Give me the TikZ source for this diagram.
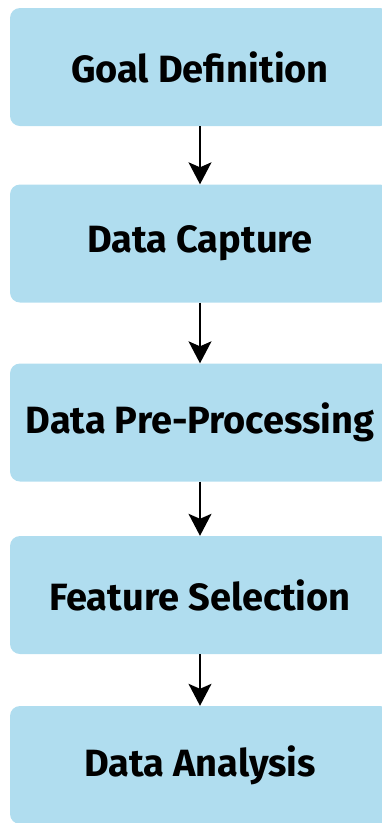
\documentclass[tikz,border=0pt]{standalone}
\usepackage{fontspec}
\setmainfont{Fira Sans}
\usepackage{xcolor}
\usetikzlibrary{arrows.meta}

\definecolor{boxblue}{RGB}{176,221,239}

\begin{document}
\begin{tikzpicture}[node distance={174.5pt}, >={Stealth[length=22pt, width=23pt, inset=5pt]},
        stage/.style = {fill=boxblue, rounded corners=10pt, minimum width=380pt, minimum height=118pt,
            font=\fontsize{38}{42}\selectfont\bfseries}]
        \useasboundingbox (0,0) rectangle (381pt,-823pt);

        \node[stage] (G) at (200pt,-67pt) {Goal Definition};
        \node[stage] (C) [below of = G, node distance=176.5pt] {Data Capture};
        \node[stage] (P) [below of = C, node distance=179pt] {Data Pre-Processing};
        \node[stage] (F) [below of = P, node distance=172.5pt] {Feature Selection};
        \node[stage] (A) [below of = F, node distance=170pt] {Data Analysis};

        \draw[->, line width=1.4pt] (G) -- (C);
        \draw[->, line width=1.4pt] (C) -- (P);
        \draw[->, line width=1.4pt] (P) -- (F);
        \draw[->, line width=1.4pt] (F) -- (A);
    \end{tikzpicture}
\end{document}
